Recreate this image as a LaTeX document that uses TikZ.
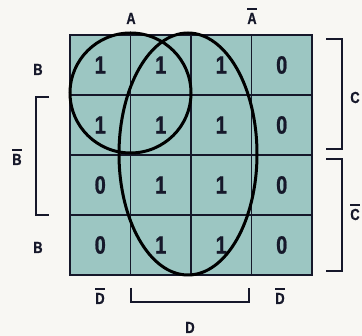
\documentclass[tikz,border=0pt]{standalone}
\usepackage{fontspec}
\setmainfont{Liberation Sans}
\newfontfamily\keyfont[FakeStretch=0.8,FakeBold=0.8]{Liberation Sans Bold}
\usetikzlibrary{positioning}

\definecolor{paper}{HTML}{F8F7F3}
\definecolor{cellc}{HTML}{9CC6C2}
\definecolor{ink}{HTML}{16182A}

% bar over a label
\newcommand{\nbar}[1]{\leavevmode\vbox{\hrule height 1.8pt \kern 3pt \hbox{#1}}}

\begin{document}
\begin{tikzpicture}[x=1pt,y=1pt,
  cell/.style={draw=ink, fill=cellc, line width=1.8pt, minimum width=60.5pt,
    minimum height=60pt, inner sep=0pt, text=ink,
    font=\keyfont\fontsize{25}{25}\selectfont},
  lbl/.style={anchor=base, inner sep=0pt, text=ink,
    font=\keyfont\fontsize{16}{16}\selectfont},
  brack/.style={draw=ink, line width=1.8pt},
  group/.style={draw=black, line width=3pt}]
  % Background
  \fill[paper] (0,0) rectangle (362,336);
  \useasboundingbox (0,0) rectangle (362,336);

  % Karnaugh map
  \foreach \r/\row in {1/{1,1,1,0},2/{1,1,1,0},3/{0,1,1,0},4/{0,1,1,0}}{
    \foreach \v [count=\c] in \row {
      \node[cell] (c-\r-\c) at ({70+60.5*(\c-0.5)},{301-60*(\r-0.5)}) {\v};
    }
  }

  % Groups
  \draw[group] (130.5,243) ellipse [x radius=60.5, y radius=60];
  \draw[group] (188,182) ellipse [x radius=69, y radius=121];

  % Variable labels
  \node[lbl] (lA) at (131,312) {A};
  \node[lbl] (lAn) at (252,312) {\nbar{A}};
  \node[lbl] (lB1) at (38,261) {B};
  \node[lbl] (lBn) at (17,171) {\nbar{B}};
  \node[lbl] (lB2) at (38,83) {B};
  \node[lbl] (lC) at (355,233) {C};
  \node[lbl] (lCn) at (355,116) {\nbar{C}};
  \node[lbl] (lDn1) at (100,32) {\nbar{D}};
  \node[lbl] (lDn2) at (280,32) {\nbar{D}};
  \node[lbl] (lD) at (190,3) {D};

  % Brackets
  \draw[brack] (49,239) -- (36,239) -- (36,121) -- (49,121);
  \draw[brack] (326,297) -- (342,297) -- (342,187) -- (326,187);
  \draw[brack] (326,177) -- (342,177) -- (342,65) -- (326,65);
  \draw[brack] (131,48) -- (131,34) -- (249,34) -- (249,48);
\end{tikzpicture}
\end{document}
